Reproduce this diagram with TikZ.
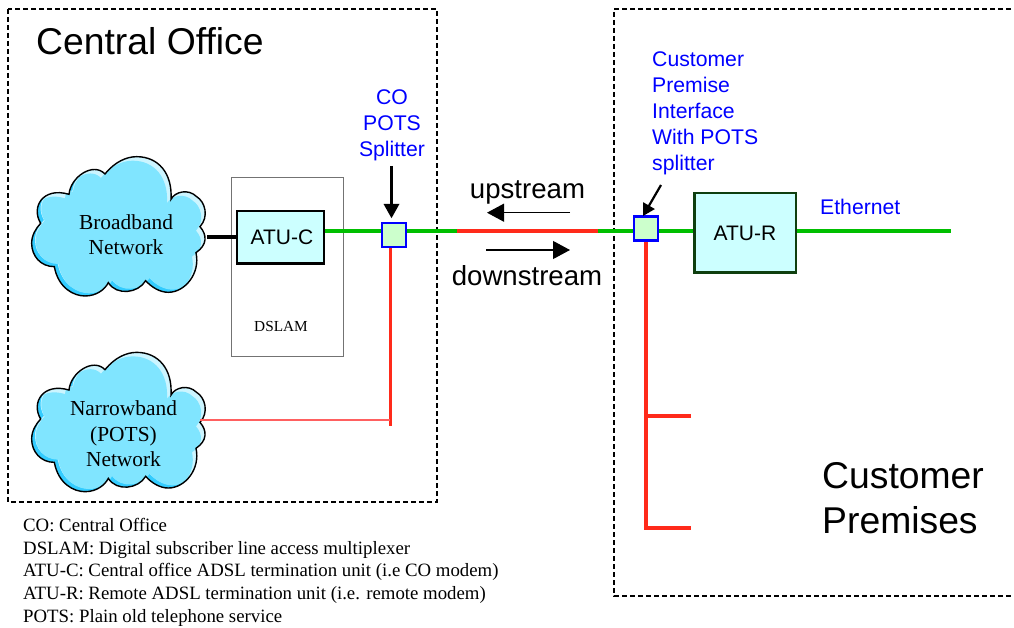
\documentclass[tikz,border=0pt]{standalone}
\usepackage{fontspec}
\setmainfont{Liberation Serif}
\setsansfont{Liberation Sans}
\usetikzlibrary{arrows.meta}
\definecolor{cloudmain}{HTML}{80E5FF}
\definecolor{clouddark}{HTML}{33CCFF}
\definecolor{cloudlight}{HTML}{CCF5FF}
\definecolor{atufill}{HTML}{CCFFFF}
\definecolor{splitfill}{HTML}{CCFFCC}
\definecolor{linegreen}{HTML}{00BF00}
\definecolor{linered}{HTML}{FF2A1A}
\definecolor{thinredcol}{HTML}{FF6060}
\definecolor{textblue}{HTML}{0000FF}
\definecolor{atudark}{HTML}{0F3F0F}
\newcommand{\fs}[1]{\fontsize{#1}{#1}\selectfont}
\newcommand{\cloudpath}{(207,103) .. controls (212,50) and (280,5) .. (315,42)
 .. controls (345,5) and (380,-10) .. (410,-10)
 .. controls (475,-10) and (518,40) .. (513,118)
 .. controls (525,95) and (565,85) .. (590,110)
 .. controls (615,125) and (628,170) .. (600,200)
 .. controls (622,225) and (622,255) .. (588,278)
 .. controls (602,340) and (555,397) .. (505,397)
 .. controls (480,397) and (455,382) .. (437,362)
 .. controls (415,400) and (350,408) .. (325,368)
 .. controls (315,388) and (290,408) .. (255,408)
 .. controls (222,408) and (175,385) .. (163,320)
 .. controls (122,320) and (95,288) .. (95,250)
 .. controls (95,225) and (108,205) .. (122,190)
 .. controls (92,140) and (130,80) .. (207,103) -- cycle}
\newcommand{\drawcloud}[2]{%
 \begin{scope}[shift={(#1,#2)},x=0.3333pt,y=-0.3333pt]
  \begin{scope}
   \clip \cloudpath;
   \fill[clouddark] (0,-50) rectangle (700,500);
   \fill[cloudlight,shift={(10,-10)}] \cloudpath;
   \begin{scope}
    \clip[shift={(12,-8)}] \cloudpath;
    \clip[shift={(-12,12)}] \cloudpath;
    \fill[cloudmain] (0,-50) rectangle (700,500);
   \end{scope}
  \end{scope}
  \draw[black,line width=1.4pt] \cloudpath;
 \end{scope}}
\tikzset{
 region/.style={draw=black,line width=1.6pt,dash pattern=on 5pt off 3pt},
 atuCbox/.style={draw=black,line width=2.5pt,fill=atufill,inner sep=0pt,font=\sffamily\fs{21}},
 atuRbox/.style={draw=atudark,line width=2.5pt,fill=atufill,inner sep=0pt,font=\sffamily\fs{21}},
 splitbox/.style={draw=textblue,line width=2.2pt,fill=splitfill,inner sep=0pt,minimum size=24pt},
 greenline/.style={linegreen,line width=3.2pt},
 redline/.style={linered,line width=3.2pt},
 thinred/.style={thinredcol,line width=1.2pt},
 feedarrow/.style={black,line width=3.3pt,-{Triangle[length=14.5pt,width=15pt]}},
 feedarrowsmall/.style={black,line width=2.2pt,-{Triangle[length=12pt,width=13pt]}},
 dirarrow/.style={black,line width=1.1pt,-{Triangle[length=17pt,width=18pt]}},
 bigsans/.style={font=\sffamily\fs{37.3},text=black,inner sep=0pt},
 midsans/.style={font=\sffamily\fs{27.6},text=black,inner sep=0pt},
 bluesans/.style={font=\sffamily\fs{21.2},text=textblue,inner sep=0pt},
 cloudtext/.style={font=\fs{21.4},align=center,inner sep=0pt},
}
\begin{document}
\begin{tikzpicture}[x=1pt,y=-1pt]
\useasboundingbox (0,0) rectangle (1014,628);
\fill[white] (0,0) rectangle (1014,628);
% regions
\draw[region] (8,9) rectangle (437,502);
\draw[region] (1011,9) -- (614,9) -- (614,596) -- (1011,596);
% DSLAM
\node[draw=black!55,line width=0.9pt,minimum width=112pt,minimum height=179pt,inner sep=0pt,fill=white] (dslam) at (287,266.5) {};
\node[font=\fs{15.3},inner sep=0pt] (dslamlabel) at (281,326.5) {DSLAM};
% clouds
\drawcloud{0}{160}
\drawcloud{0}{355.7}
\node[cloudtext] (broadband) at (126,234.5) {Broadband\\[4pt]Network};
\node[cloudtext] (narrowband) at (123.5,434) {Narrowband\\[4pt](POTS)\\[4pt]Network};
\coordinate (broadedge) at (207,237);
\coordinate (narrowedge) at (200,420);
% boxes
\node[atuCbox,minimum width=87pt,minimum height=52.5pt] (atuc) at (280.5,237.5) {\hspace{3pt}ATU-C};
\node[atuRbox,minimum width=101.5pt,minimum height=79.5pt] (atur) at (745,233) {ATU-R};
\coordinate (lineA) at (457,231);
\coordinate (lineB) at (598,231);
\coordinate (ethend) at (951,231);
\coordinate (coredend) at (390.3,426);
\coordinate (coredjoin) at (390.3,420);
\coordinate (cpbranch1) at (646,416);
\coordinate (cpbranch2) at (646,528);
\coordinate (cpend1) at (691,416);
\coordinate (cpend2) at (691,528);
% connectors behind splitters
\draw[black,line width=3.3pt] (broadedge) -- (atuc.west |- broadedge);
\draw[greenline] (atuc.east |- lineA) -- (lineA);
\draw[redline] (lineA) -- (lineB);
\draw[greenline] (lineB) -- (atur.west |- lineB);
\draw[greenline] (atur.east |- ethend) -- (ethend);
\draw[redline] (390.3,248) -- (coredend);
\draw[thinred] (narrowedge) -- (coredjoin);
\draw[redline] (646,241) -- (cpbranch2) -- (cpend2);
\draw[redline] (cpbranch1) -- (cpend1);
% splitters
\node[splitbox] (cosplit) at (394,235) {};
\node[splitbox] (cpsplit) at (646,228.5) {};
% labels
\node[bigsans,anchor=base west] (colabel) at (36,55) {Central Office};
\node[bigsans,anchor=base west] (cust1) at (822,488) {Customer};
\node[bigsans,anchor=base west] (cust2) at (822,533) {Premises};
\node[midsans,anchor=base] (up) at (527.5,199) {upstream};
\node[midsans,anchor=base] (down) at (527,285) {downstream};
\node[bluesans,anchor=base] (co1) at (392,105) {CO};
\node[bluesans,anchor=base] (co2) at (392,131) {POTS};
\node[bluesans,anchor=base] (co3) at (392,157) {Splitter};
\node[bluesans,anchor=base west] (cp1) at (652,67) {Customer};
\node[bluesans,anchor=base west] (cp2) at (652,93) {Premise};
\node[bluesans,anchor=base west] (cp3) at (652,119) {Interface};
\node[bluesans,anchor=base west] (cp4) at (652,145) {With POTS};
\node[bluesans,anchor=base west] (cp5) at (652,171) {splitter};
\node[bluesans,anchor=base west] (eth) at (820,215) {Ethernet};
% arrows
\coordinate (cofrom) at (391.5,166);
\coordinate (cpfrom) at (661,185);
\coordinate (cptip) at (643,216);
\coordinate (upfrom) at (570,212.7);
\coordinate (upto) at (487,212.7);
\coordinate (downfrom) at (486,250);
\coordinate (downto) at (570,250);
\draw[feedarrow,shorten >=3.5pt] (cofrom) -- (cofrom |- cosplit.north);
\draw[feedarrowsmall] (cpfrom) -- (cptip);
\draw[dirarrow] (upfrom) -- (upto);
\draw[dirarrow] (downfrom) -- (downto);
% legend
\begin{scope}[every node/.style={font=\fs{18.8},anchor=base west,inner sep=0pt}]
\node (leg1) at (23,531) {CO: Central Office};
\node (leg2) at (23,554) {DSLAM: Digital subscriber line access multiplexer};
\node (leg3) at (23,576.5) {ATU-C: Central office ADSL termination unit (i.e CO modem)};
\node (leg4) at (23,599) {ATU-R: Remote ADSL termination unit (i.e. remote modem)};
\node (leg5) at (23,622) {POTS: Plain old telephone service};
\end{scope}
\end{tikzpicture}
\end{document}
